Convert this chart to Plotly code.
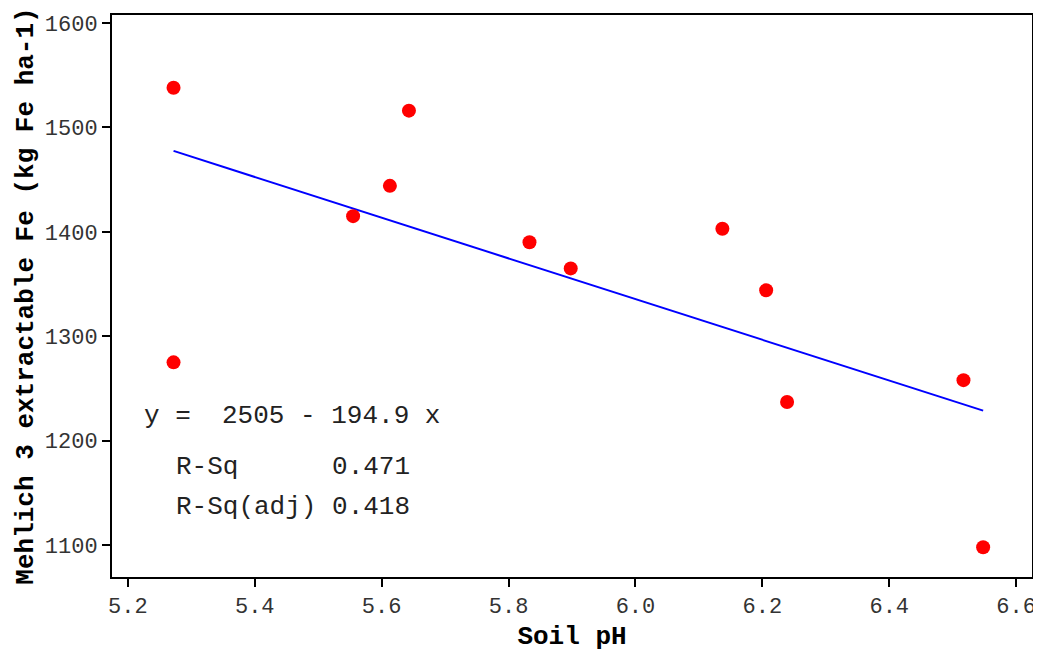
import plotly.graph_objects as go

# Data
soil_ph = [5.272, 5.272, 5.643, 5.613, 5.555, 5.833, 5.898, 6.137, 6.206, 6.239, 6.517, 6.548]
fe = [1538, 1275, 1516, 1444, 1415, 1390, 1365, 1403, 1344, 1237, 1258, 1098]

intercept = 2505
slope = -194.9
fit_x = sorted(soil_ph)
fit_y = [intercept + slope * v for v in fit_x]

x_ticks = [5.2, 5.4, 5.6, 5.8, 6.0, 6.2, 6.4, 6.6]
x_tick_text = ["5.2", "5.4", "5.6", "5.8", "6.0", "6.2", "6.4", "6.6"]
y_ticks = [1100, 1200, 1300, 1400, 1500, 1600]

FONT = "Liberation Mono"

fig = go.Figure()
fig.add_trace(go.Scatter(x=fit_x, y=fit_y, mode="lines",
                         line=dict(color="#0000ff", width=2), showlegend=False))
fig.add_trace(go.Scatter(x=soil_ph, y=fe, mode="markers",
                         marker=dict(color="#ff0000", size=14), showlegend=False))

ann_font = dict(family=FONT, size=26, color="#222222")
fig.add_annotation(x=5.2215, y=1224, xref="x", yref="y", xanchor="left", yanchor="middle",
                   text="y =  2505 - 194.9 x", showarrow=False, font=ann_font)
fig.add_annotation(x=5.273, y=1175, xref="x", yref="y", xanchor="left", yanchor="middle",
                   text="R-Sq      0.471", showarrow=False, font=ann_font)
fig.add_annotation(x=5.273, y=1137, xref="x", yref="y", xanchor="left", yanchor="middle",
                   text="R-Sq(adj) 0.418", showarrow=False, font=ann_font)

fig.update_layout(
    width=1033, height=647,
    margin=dict(l=104, r=6, t=5, b=78),
    paper_bgcolor="white", plot_bgcolor="white",
    font=dict(family=FONT, color="#222222"),
    xaxis=dict(range=[5.175, 6.625], tickvals=x_ticks, ticktext=x_tick_text,
               ticks="outside", ticklen=8, tickwidth=2, tickcolor="black",
               showline=True, linecolor="black", linewidth=2, mirror=True,
               showgrid=False, zeroline=False, ticklabeloverflow="allow",
               tickfont=dict(family=FONT, size=22, color="#333333"),
               title=dict(text="<b>Soil pH</b>", font=dict(family=FONT, size=26, color="black"),
                          standoff=6)),
    yaxis=dict(range=[1069.5, 1607.6], tickvals=y_ticks,
               ticks="outside", ticklen=8, tickwidth=2, tickcolor="black",
               showline=True, linecolor="black", linewidth=2, mirror=True,
               showgrid=False, zeroline=False,
               tickfont=dict(family=FONT, size=22, color="#333333"),
               title=dict(text="<b>Mehlich 3 extractable Fe (kg Fe ha-1)</b>",
                          font=dict(family=FONT, size=26, color="black"), standoff=4)),
)

fig.write_html("out.html")
